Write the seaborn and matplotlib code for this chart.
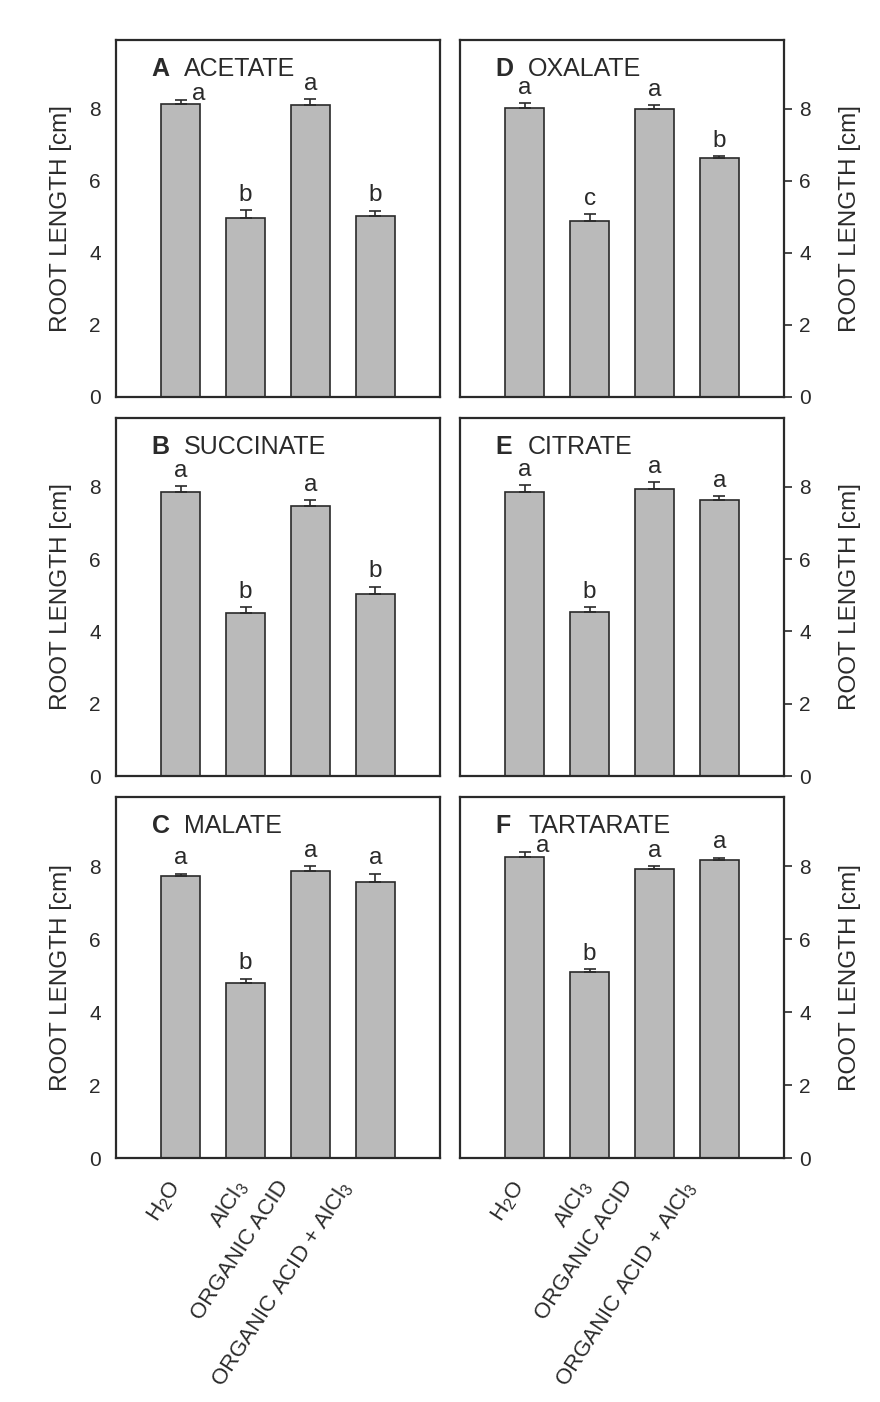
import numpy as np
import pandas as pd
import matplotlib
matplotlib.use("Agg")
import matplotlib.pyplot as plt
from matplotlib.transforms import ScaledTranslation
import seaborn as sns

# Treatments (x categories)
treatments = ["H2O", "AlCl3", "ORGANIC ACID", "ORGANIC ACID + AlCl3"]
tick_labels = ["H$_2$O", "AlCl$_3$", "ORGANIC ACID", "ORGANIC ACID + AlCl$_3$"]

# Panel titles
panel_ids = ["A", "B", "C", "D", "E", "F"]
panel_names = ["ACETATE", "SUCCINATE", "MALATE", "OXALATE", "CITRATE", "TARTARATE"]

# Mean root length [cm] per treatment
acetate = [8.12, 4.97, 8.10, 5.02]
succinate = [7.85, 4.52, 7.47, 5.02]
malate = [7.74, 4.80, 7.88, 7.58]
oxalate = [8.02, 4.88, 8.00, 6.62]
citrate = [7.84, 4.53, 7.93, 7.63]
tartarate = [8.25, 5.10, 7.93, 8.16]

# Standard errors
acetate_se = [0.12, 0.22, 0.15, 0.15]
succinate_se = [0.17, 0.15, 0.17, 0.22]
malate_se = [0.06, 0.12, 0.12, 0.22]
oxalate_se = [0.12, 0.20, 0.10, 0.05]
citrate_se = [0.20, 0.15, 0.20, 0.10]
tartarate_se = [0.15, 0.08, 0.08, 0.08]

# Significance letters
acetate_sig = ["a", "b", "a", "b"]
succinate_sig = ["a", "b", "a", "b"]
malate_sig = ["a", "b", "a", "a"]
oxalate_sig = ["a", "c", "a", "b"]
citrate_sig = ["a", "b", "a", "a"]
tartarate_sig = ["a", "b", "a", "a"]

values = [acetate, succinate, malate, oxalate, citrate, tartarate]
errors = [acetate_se, succinate_se, malate_se, oxalate_se, citrate_se, tartarate_se]
letters = [acetate_sig, succinate_sig, malate_sig, oxalate_sig, citrate_sig, tartarate_sig]

sns.set_theme(style="white")
plt.rcParams["font.family"] = ["Liberation Sans", "DejaVu Sans"]
plt.rcParams["mathtext.fontset"] = "custom"
plt.rcParams["mathtext.rm"] = "Liberation Sans"
plt.rcParams["mathtext.default"] = "regular"

W, H = 880, 1402
fig = plt.figure(figsize=(W / 100, H / 100), dpi=100)
fig.patch.set_facecolor("white")

bar_color = "#bababa"
ink = "#2a2a2a"

# axes boxes in pixels: (left, top, right, bottom)
cols = [(116, 440), (460, 784)]
rows = [(40, 397), (418, 776), (797, 1158)]

# letters that sit beside the error bar instead of above it
side_letters = {("A", 0), ("F", 0)}

for k in range(6):
    col, row = divmod(k, 3)
    l, r = cols[col]
    t, b = rows[row]
    ax = fig.add_axes([l / W, 1 - b / H, (r - l) / W, (b - t) / H])
    df = pd.DataFrame({"treatment": treatments, "length": values[k]})
    sns.barplot(data=df, x="treatment", y="length", order=treatments,
                color=bar_color, saturation=1, width=0.6, edgecolor=ink,
                linewidth=1.2, errorbar=None, ax=ax)
    x = np.arange(len(treatments))
    vals = np.array(values[k])
    errs = np.array(errors[k])
    ax.errorbar(x, vals, yerr=[np.zeros_like(errs), errs], fmt="none",
                ecolor=ink, elinewidth=1.2, capsize=4, capthick=1.2)
    pid = panel_ids[k]
    for i, (v, e, s) in enumerate(zip(vals, errs, letters[k])):
        if (pid, i) in side_letters:
            ax.annotate(s, (i, v + e), xytext=(13, -4), textcoords="offset points",
                        ha="center", va="bottom", fontsize=17.5, color=ink)
        else:
            ax.annotate(s, (i, v + e), xytext=(0, 3), textcoords="offset points",
                        ha="center", va="bottom", fontsize=17.5, color=ink)

    ax.set_xlim(-1, 4)
    ax.set_ylim(0, 9.9)
    ax.set_yticks([0, 2, 4, 6, 8])
    ax.set_xlabel("")
    for sp in ax.spines.values():
        sp.set_visible(True)
        sp.set_color(ink)
        sp.set_linewidth(1.6)
    ax.tick_params(axis="y", direction="out", length=6, width=1.2, colors=ink,
                   labelsize=15, pad=5)
    ax.tick_params(axis="x", length=0)
    if col == 1:
        ax.yaxis.tick_right()
        ax.yaxis.set_label_position("right")
        ax.set_ylabel("ROOT LENGTH [cm]", fontsize=17.5, color=ink, labelpad=20)
    else:
        ax.set_ylabel("ROOT LENGTH [cm]", fontsize=17.5, color=ink, labelpad=12)
    ax.text(0.11, 0.92, pid, transform=ax.transAxes, fontsize=18,
            fontweight="bold", color=ink, va="center", ha="left")
    ax.text(0.21, 0.92, panel_names[k], transform=ax.transAxes, fontsize=18,
            color=ink, va="center", ha="left")

    ax.set_xticks(x)
    if row == 2:
        ax.set_xticklabels(tick_labels, rotation=57, ha="right", va="top",
                           rotation_mode="anchor", fontsize=16, color=ink)
        shifts = [-14, -13, -35, -38]
        for lbl, dx in zip(ax.get_xticklabels(), shifts):
            lbl.set_transform(lbl.get_transform() +
                              ScaledTranslation(dx / 100, -14 / 100, fig.dpi_scale_trans))
    else:
        ax.set_xticklabels([])

fig.savefig("out.png", dpi=100, facecolor="white")
